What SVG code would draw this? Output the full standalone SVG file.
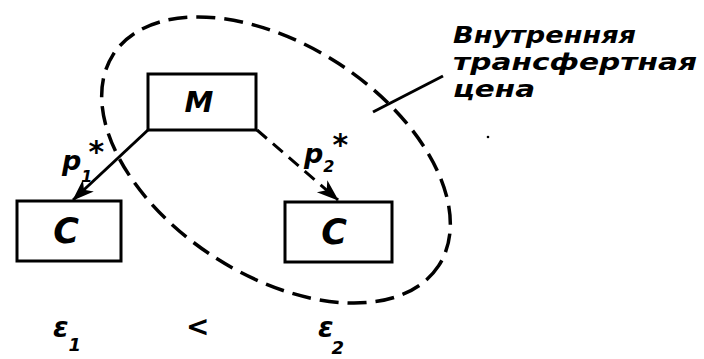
<svg xmlns="http://www.w3.org/2000/svg" width="704" height="359" viewBox="0 0 704 359">
<defs>
<style>
.box{fill:#fff;stroke:#000;stroke-width:3}
.t{font-family:"DejaVu Sans","Liberation Sans",sans-serif;font-style:oblique;font-weight:bold;fill:#000}
.ln{fill:none;stroke:#000;stroke-width:3}
</style>
<marker id="ah" markerUnits="userSpaceOnUse" markerWidth="26" markerHeight="18" refX="21" refY="8" orient="auto">
<path d="M0,0 L22,8 L0,16 L6,8 z" fill="#000"/>
</marker>
</defs>
<rect width="704" height="359" fill="#fff"/>
<g id="boundary">
<ellipse cx="276" cy="160" rx="194" ry="115" transform="rotate(33 276 160)" fill="none" stroke="#000" stroke-width="3.5" stroke-dasharray="19 9"/>
</g>
<g id="connectors">
<line class="ln" x1="148" y1="130" x2="73" y2="200" marker-end="url(#ah)"/>
<line class="ln" x1="257" y1="130" x2="338" y2="200" stroke-dasharray="13 8" marker-end="url(#ah)"/>
<line class="ln" x1="373" y1="112" x2="443" y2="76" stroke-width="2.6"/>
</g>
<g id="node-M">
<rect class="box" x="148" y="74" width="108" height="56"/>
<text class="t" x="199" y="112" font-size="29" text-anchor="middle">M</text>
</g>
<g id="node-C1">
<rect class="box" x="17" y="201" width="104" height="60"/>
<text class="t" x="66" y="243" font-size="35" text-anchor="middle">C</text>
</g>
<g id="node-C2">
<rect class="box" x="285" y="202" width="107" height="60"/>
<text class="t" x="334" y="244" font-size="35" text-anchor="middle">C</text>
</g>
<g id="labels">
<text class="t" x="62" y="170" font-size="27">p<tspan font-size="16" dy="12">1</tspan><tspan font-size="30" dy="-20" dx="-4">*</tspan></text>
<text class="t" x="304" y="163" font-size="27">p<tspan font-size="16" dy="9">2</tspan><tspan font-size="30" dy="-17" dx="-2">*</tspan></text>
<text class="t" x="453" y="43" font-size="23" textLength="183" lengthAdjust="spacingAndGlyphs">Внутренняя</text>
<text class="t" x="453" y="70" font-size="23" textLength="244" lengthAdjust="spacingAndGlyphs">трансфертная</text>
<text class="t" x="453" y="97" font-size="23" textLength="82" lengthAdjust="spacingAndGlyphs">цена</text>
<circle cx="488" cy="137" r="1.3" fill="#000"/>
<text class="t" x="53" y="337" font-size="28">ε<tspan font-size="18" dy="14">1</tspan></text>
<text class="t" x="186" y="336" font-size="28">&lt;</text>
<text class="t" x="318" y="337" font-size="28">ε<tspan font-size="18" dy="17" dx="-2">2</tspan></text>
</g>
</svg>
